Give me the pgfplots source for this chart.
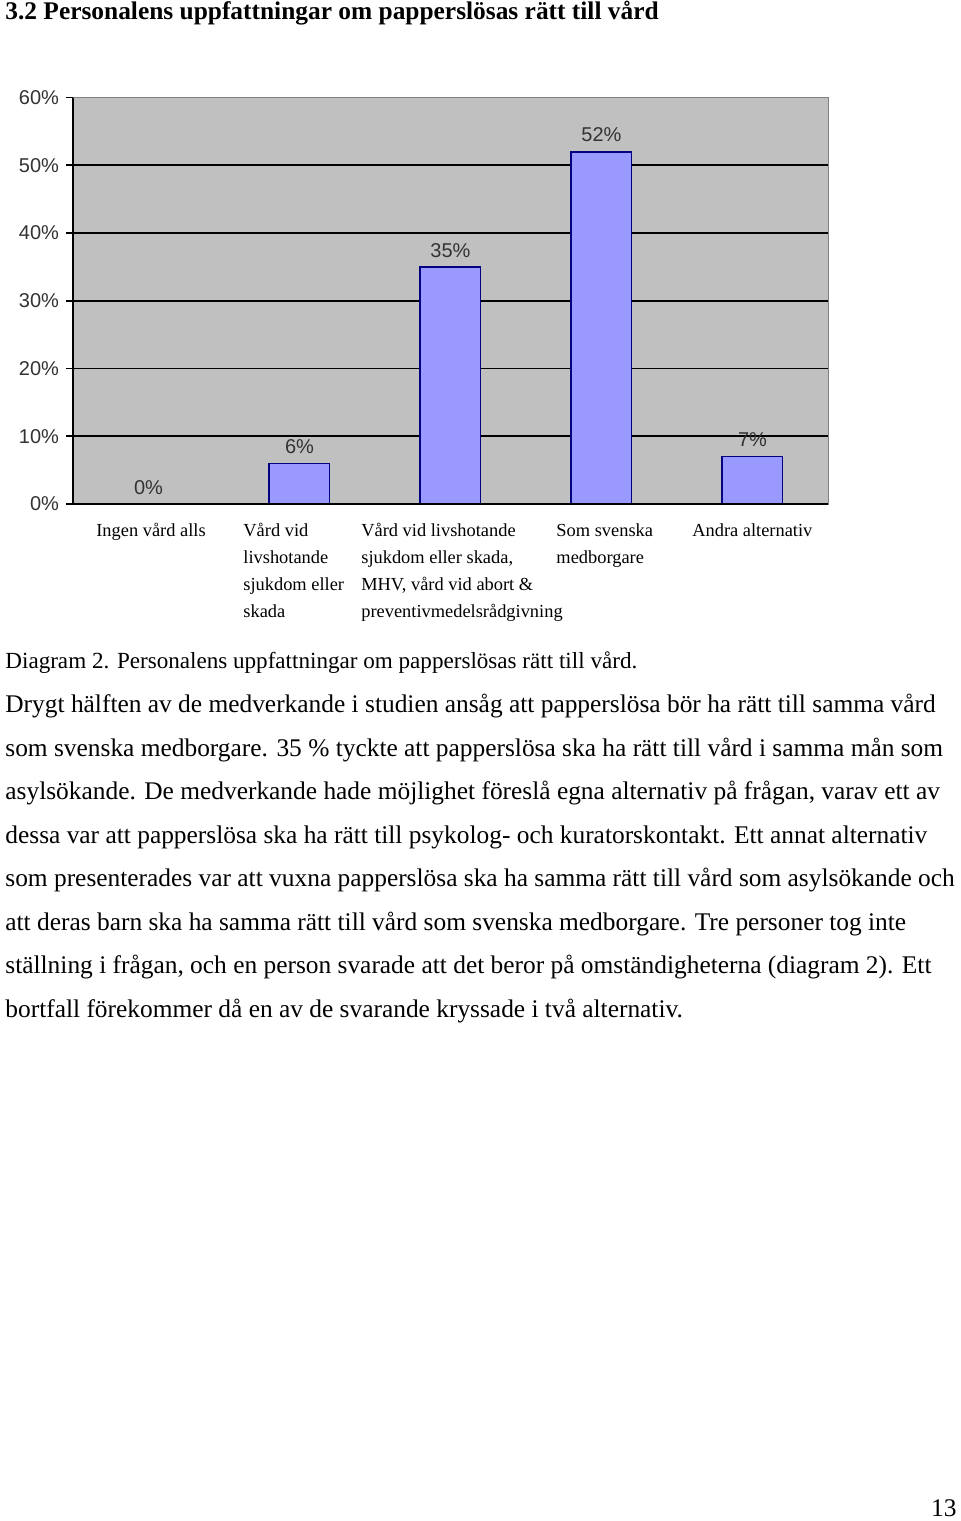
\documentclass[border=0pt]{standalone}
\usepackage{pgfplots}
\pgfplotsset{compat=1.18}
\usepackage{fontspec}
\setmainfont{Liberation Serif}
\newfontfamily\arial{Liberation Sans}
\definecolor{plotbg}{HTML}{C0C0C0}
\definecolor{barfill}{HTML}{9999FF}
\definecolor{barline}{HTML}{000080}
\begin{document}
\begin{tikzpicture}
\begin{scope}[x=0.5pt,y=-0.5pt]
\useasboundingbox[fill=white] (0,0) rectangle (960,1521);
\end{scope}
\begin{axis}[
  at={(36.5pt,-252pt)}, anchor=south west,
  scale only axis, width=377.5pt, height=203.25pt,
  xmin=-0.5, xmax=4.5, ymin=0, ymax=60,
  axis background/.style={fill=plotbg, draw=gray},
  axis x line=bottom, axis y line=left,
  axis line style={-, black, line width=0.8pt},
  ytick={0,10,...,50}, extra y ticks={60}, extra y tick style={grid=none},
  ymajorgrids, grid style={black, line width=0.9pt},
  tick align=outside, major tick length=3.5pt,
  tick style={black, line width=0.8pt},
  ytick pos=left,
  /pgf/number format/assume math mode=true,
  yticklabel={\pgfmathprintnumber{\tick}\%},
  yticklabel style={font={\arial\fontsize{10}{11}\selectfont}, text=black!80},
  xtick={-0.348,0.626,1.407,2.699,3.599},
  xtick style={draw=none},
  xticklabels={{Ingen vård alls},{Vård vid\\livshotande\\sjukdom eller\\skada},{Vård vid livshotande\\sjukdom eller skada,\\MHV, vård vid abort \&\\preventivmedelsrådgivning},{Som svenska\\medborgare},{Andra alternativ}},
  xticklabel style={anchor=north west, inner sep=0pt, yshift=-6pt, align=left, font={\fontsize{9.2}{13.5}\selectfont}},
  ybar, bar width=0.4,
  nodes near coords={\pgfmathprintnumber{\pgfplotspointmeta}\%},
  every node near coord/.append style={anchor=center, yshift=8.3pt, font={\arial\fontsize{10}{11}\selectfont}, text=black!80},
]
\addplot[fill=barfill, draw=barline, line width=0.8pt] coordinates {(0,0) (1,6) (2,35) (3,52) (4,7)};
\draw[black, line width=0.8pt] (rel axis cs:0,0) -- (rel axis cs:1,0);
\end{axis}
\begin{scope}[x=0.5pt,y=-0.5pt,every node/.style={anchor=base west,inner sep=0pt,font={\fontsize{12.7}{14}\selectfont}}]
\node[font={\fontsize{12.7}{15}\selectfont\bfseries}] at (5,19) {3.2 Personalens uppfattningar om papperslösas rätt till vård};
\node[font={\fontsize{11.55}{14}\selectfont}] at (5,668) {Diagram 2. Personalens uppfattningar om papperslösas rätt till vård.};
\node at (5,712) {Drygt hälften av de medverkande i studien ansåg att papperslösa bör ha rätt till samma vård};
\node at (5,756) {som svenska medborgare. 35 \% tyckte att papperslösa ska ha rätt till vård i samma mån som};
\node at (5,799) {asylsökande. De medverkande hade möjlighet föreslå egna alternativ på frågan, varav ett av};
\node at (5,843) {dessa var att papperslösa ska ha rätt till psykolog- och kuratorskontakt. Ett annat alternativ};
\node at (5,886) {som presenterades var att vuxna papperslösa ska ha samma rätt till vård som asylsökande och};
\node at (5,930) {att deras barn ska ha samma rätt till vård som svenska medborgare. Tre personer tog inte};
\node at (5,973) {ställning i frågan, och en person svarade att det beror på omständigheterna (diagram 2). Ett};
\node at (5,1017) {bortfall förekommer då en av de svarande kryssade i två alternativ.};
\node[anchor=base east] at (957,1516) {13};
\end{scope}
\end{tikzpicture}
\end{document}
